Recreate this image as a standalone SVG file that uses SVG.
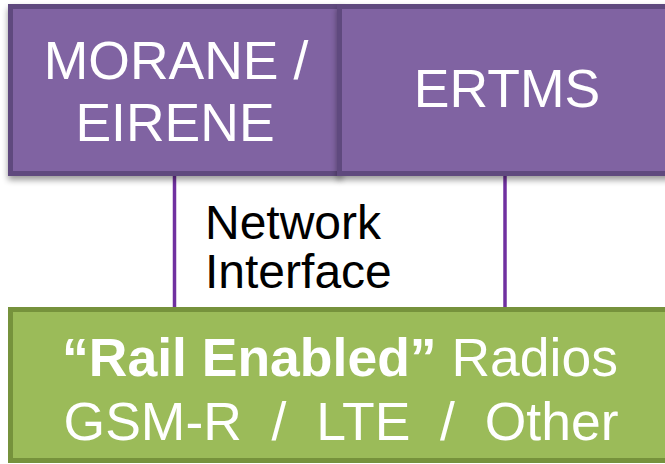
<svg xmlns="http://www.w3.org/2000/svg" width="665" height="464" viewBox="0 0 665 464">
  <style>
    .purple { fill: #8064A2; stroke: #5E4A7E; stroke-width: 5; }
    .green { fill: #9BBB59; stroke: #76923C; stroke-width: 5; }
    .wt { fill: #FFFFFF; font-family: "Liberation Sans", Arial, sans-serif; font-size: 53.5px; }
    .bk { fill: #000000; font-family: "Liberation Sans", Arial, sans-serif; font-size: 48px; }
    .conn { stroke: #7030A0; stroke-width: 3.5; fill: none; }
  </style>
  <defs>
    <filter id="shadow" x="-10%" y="-10%" width="120%" height="130%">
      <feGaussianBlur in="SourceAlpha" stdDeviation="3"/>
      <feOffset dx="0" dy="4" result="b"/>
      <feComponentTransfer><feFuncA type="linear" slope="0.4"/></feComponentTransfer>
      <feMerge><feMergeNode/><feMergeNode in="SourceGraphic"/></feMerge>
    </filter>
  </defs>
  <rect width="665" height="464" fill="#FFFFFF"/>
  <g id="connectors">
    <line class="conn" x1="174.5" y1="176" x2="174.5" y2="309"/>
    <line class="conn" x1="505" y1="176" x2="505" y2="309"/>
  </g>
  <g id="morane" filter="url(#shadow)">
    <rect class="purple" x="10.5" y="6.5" width="329" height="167"/>
    <text class="wt" text-anchor="middle" x="176" y="79">MORANE /</text>
    <text class="wt" text-anchor="middle" x="175" y="141">EIRENE</text>
  </g>
  <g id="ertms" filter="url(#shadow)">
    <rect class="purple" x="339.5" y="6.5" width="340" height="167"/>
    <text class="wt" text-anchor="middle" x="507" y="107">ERTMS</text>
  </g>
  <g id="network-interface">
    <text class="bk" x="205" y="239">Network</text>
    <text class="bk" x="205" y="288">Interface</text>
  </g>
  <g id="radios">
    <rect class="green" x="10.5" y="309.5" width="670" height="151"/>
    <text class="wt" text-anchor="middle" x="340" y="376"><tspan font-weight="bold">“Rail Enabled”</tspan> Radios</text>
    <text class="wt" text-anchor="middle" x="341" y="440" xml:space="preserve" style="white-space:pre">GSM-R  /  LTE  /  Other</text>
  </g>
</svg>
